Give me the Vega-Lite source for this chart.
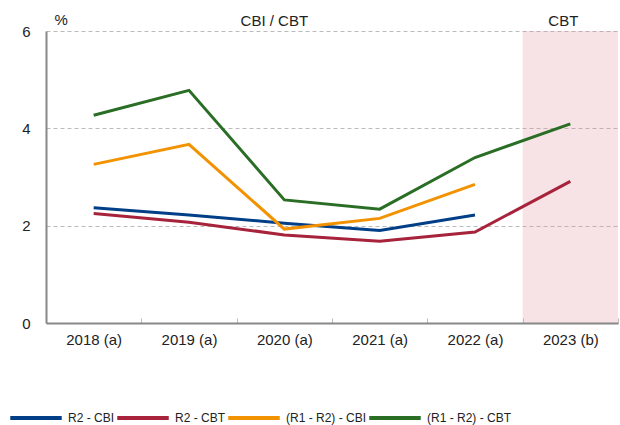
{
  "$schema": "https://vega.github.io/schema/vega-lite/v6.json",
  "width": 572,
  "height": 292,
  "autosize": "none",
  "padding": {"left": 46, "top": 31, "right": 2, "bottom": 102},
  "background": "white",
  "config": {
    "view": {"stroke": null},
    "font": "Liberation Sans",
    "axis": {"labelFont": "Liberation Sans", "labelFontSize": 15, "labelColor": "#222"}
  },
  "datasets": {
    "series": [
      {"series": "R2 - CBI", "year": "2018 (a)", "value": 2.37},
      {"series": "R2 - CBI", "year": "2019 (a)", "value": 2.22},
      {"series": "R2 - CBI", "year": "2020 (a)", "value": 2.05},
      {"series": "R2 - CBI", "year": "2021 (a)", "value": 1.9},
      {"series": "R2 - CBI", "year": "2022 (a)", "value": 2.22},
      {"series": "R2 - CBT", "year": "2018 (a)", "value": 2.25},
      {"series": "R2 - CBT", "year": "2019 (a)", "value": 2.07},
      {"series": "R2 - CBT", "year": "2020 (a)", "value": 1.81},
      {"series": "R2 - CBT", "year": "2021 (a)", "value": 1.68},
      {"series": "R2 - CBT", "year": "2022 (a)", "value": 1.87},
      {"series": "R2 - CBT", "year": "2023 (b)", "value": 2.91},
      {"series": "(R1 - R2) - CBI", "year": "2018 (a)", "value": 3.26},
      {"series": "(R1 - R2) - CBI", "year": "2019 (a)", "value": 3.67},
      {"series": "(R1 - R2) - CBI", "year": "2020 (a)", "value": 1.93},
      {"series": "(R1 - R2) - CBI", "year": "2021 (a)", "value": 2.15},
      {"series": "(R1 - R2) - CBI", "year": "2022 (a)", "value": 2.85},
      {"series": "(R1 - R2) - CBT", "year": "2018 (a)", "value": 4.27},
      {"series": "(R1 - R2) - CBT", "year": "2019 (a)", "value": 4.78},
      {"series": "(R1 - R2) - CBT", "year": "2020 (a)", "value": 2.53},
      {"series": "(R1 - R2) - CBT", "year": "2021 (a)", "value": 2.34},
      {"series": "(R1 - R2) - CBT", "year": "2022 (a)", "value": 3.4},
      {"series": "(R1 - R2) - CBT", "year": "2023 (b)", "value": 4.09}
    ],
    "shade": [{"year": "2023 (b)"}],
    "label1": [{"year": "2020 (a)", "label": "CBI / CBT"}],
    "label2": [{"year": "2023 (b)", "label": "CBT"}]
  },
  "layer": [
    {
      "data": {"name": "shade"},
      "mark": {"type": "rect", "fill": "#df8f9b", "opacity": 0.25},
      "encoding": {
        "x": {"field": "year", "type": "nominal", "scale": {"domain": ["2018 (a)", "2019 (a)", "2020 (a)", "2021 (a)", "2022 (a)", "2023 (b)"]}}
      }
    },
    {
      "data": {"name": "series"},
      "mark": {"type": "line", "strokeWidth": 3},
      "encoding": {
        "x": {
          "field": "year", "type": "nominal", "sort": null,
          "scale": {"domain": ["2018 (a)", "2019 (a)", "2020 (a)", "2021 (a)", "2022 (a)", "2023 (b)"], "paddingInner": 0, "paddingOuter": 0},
          "axis": {
            "title": null, "labelAngle": 0, "labelAlign": "center", "labelPadding": 21,
            "domainColor": "#888", "domainWidth": 2,
            "tickColor": "#bbb", "tickSize": -5, "tickWidth": 1,
            "tickOffset": 47.67, "labelOffset": -47.67,
            "grid": false
          }
        },
        "y": {
          "field": "value", "type": "quantitative",
          "scale": {"domain": [0, 6], "nice": false},
          "axis": {
            "values": [0, 2, 4, 6], "title": "%", "titleAngle": 0, "titleAlign": "left",
            "titleX": 8, "titleY": -4, "titleBaseline": "bottom", "titleFontSize": 15,
            "titleFontWeight": "normal", "titleColor": "#222",
            "domainColor": "#888", "domainWidth": 2, "ticks": false, "labelPadding": 16,
            "grid": true, "gridDash": [4, 3], "gridColor": "#bbb", "gridWidth": 1
          }
        },
        "color": {
          "field": "series", "type": "nominal",
          "scale": {
            "domain": ["R2 - CBI", "R2 - CBT", "(R1 - R2) - CBI", "(R1 - R2) - CBT"],
            "range": ["#003f87", "#a6233b", "#f39200", "#2a6e25"]
          },
          "legend": {
            "title": null, "orient": "none", "direction": "horizontal", "columns": 4,
            "legendX": -38, "legendY": 359,
            "symbolType": "stroke", "symbolSize": 2650, "symbolStrokeWidth": 4,
            "labelFont": "Liberation Sans", "labelFontSize": 12, "labelColor": "#222",
            "labelOffset": 4, "columnPadding": -7
          }
        }
      }
    },
    {
      "data": {"name": "label1"},
      "mark": {"type": "text", "fontSize": 15, "color": "#222", "baseline": "alphabetic", "dy": -5, "dx": -10, "font": "Liberation Sans"},
      "encoding": {
        "x": {"field": "year", "type": "nominal"},
        "y": {"datum": 6},
        "text": {"field": "label"}
      }
    },
    {
      "data": {"name": "label2"},
      "mark": {"type": "text", "fontSize": 15, "color": "#222", "baseline": "alphabetic", "dy": -5, "dx": -7, "font": "Liberation Sans"},
      "encoding": {
        "x": {"field": "year", "type": "nominal"},
        "y": {"datum": 6},
        "text": {"field": "label"}
      }
    }
  ]
}
